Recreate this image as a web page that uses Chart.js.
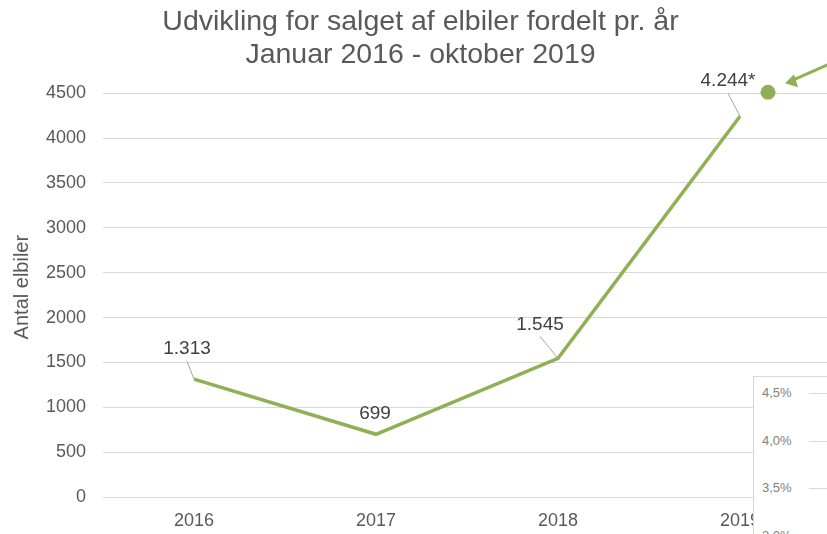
<!DOCTYPE html>
<html lang="da">
<head>
<meta charset="utf-8">
<script src="https://cdn.jsdelivr.net/npm/chart.js@4.4.1/dist/chart.umd.min.js"></script>
<style>
  html, body { margin: 0; padding: 0; background: #fff; overflow: hidden; }
  #wrap { position: relative; width: 827px; height: 534px; overflow: hidden; }
  #salesChart { position: absolute; left: 0; top: 0; }
  /* stump af nabo-diagrammet i højre side */
  #inset { position: absolute; left: 753px; top: 376px; width: 100px; height: 200px;
           background: #fff; border: 1px solid #d9d9d9; font-family: "Liberation Sans", Arial, sans-serif;
           font-size: 13px; color: #7f7f7f; }
  #inset div { position: absolute; left: 8px; height: 16px; line-height: 16px; }
  #inset span { position: absolute; left: 47px; top: 8px; width: 40px; border-top: 1px solid #d9d9d9; }
</style>
</head>
<body>
<div id="wrap">
  <canvas id="salesChart" width="920" height="534"></canvas>
  <div id="inset"></div>
</div>
<script>
// ---- data ----
const years = ['2016', '2017', '2018', '2019'];
const salesCount = [1313, 699, 1545, 4244];
const salesNote = ['', '', '', '*'];
const yTicks = [0, 500, 1000, 1500, 2000, 2500, 3000, 3500, 4000, 4500];
const insetTicks = ['4,5%', '4,0%', '3,5%', '3,0%'];
const yTitle = 'Antal elbiler';

const textColor = '#595959';
const lineGreen = '#8db153';
const fontFam = '"Liberation Sans", Arial, sans-serif';

// label-placering i forhold til punktet (dx, dy) og om der skal leader-linje
const labelOffsets = [
    { dx: -7, dy: -30, leader: true },
    { dx: -1, dy: -21, leader: false },
    { dx: -18, dy: -34, leader: true },
    { dx: -12, dy: -35, leader: true }
];

function fmtDa(n) {
    return String(n).replace(/\B(?=(\d{3})+(?!\d))/g, '.');
}

// datalabels med leader-linjer (som i Excel)
const valueLabels = {
    id: 'valueLabels',
    afterDatasetsDraw(chart) {
        const ctx = chart.ctx;
        const meta = chart.getDatasetMeta(0);
        ctx.save();
        ctx.font = '19px ' + fontFam;
        ctx.fillStyle = '#404040';
        ctx.textAlign = 'center';
        ctx.textBaseline = 'middle';
        meta.data.forEach((pt, i) => {
            const off = labelOffsets[i];
            const lx = pt.x + off.dx;
            const ly = pt.y + off.dy;
            if (off.leader) {
                ctx.strokeStyle = '#a6a6a6';
                ctx.lineWidth = 1;
                ctx.beginPath();
                ctx.moveTo(lx, ly + 12);
                ctx.lineTo(pt.x, pt.y);
                ctx.stroke();
            }
            ctx.fillText(fmtDa(salesCount[i]) + salesNote[i], lx, ly);
        });
        ctx.restore();
    }
};

// y-aksens titel lidt over midten, som i Excel-udgaven
const axisTitle = {
    id: 'axisTitle',
    afterDraw(chart) {
        const ctx = chart.ctx;
        const a = chart.chartArea;
        ctx.save();
        ctx.translate(22, (a.top + a.bottom) / 2 - 8);
        ctx.rotate(-Math.PI / 2);
        ctx.font = '20px ' + fontFam;
        ctx.fillStyle = textColor;
        ctx.textAlign = 'center';
        ctx.textBaseline = 'middle';
        ctx.fillText(yTitle, 0, 0);
        ctx.restore();
    }
};

// grøn prik og pil ved 2019-værdien
const marker = {
    id: 'marker',
    afterDraw(chart) {
        const ctx = chart.ctx;
        const x = chart.scales.x.getPixelForValue(3) + 28;
        const y = chart.scales.y.getPixelForValue(4500) - 1;
        ctx.save();
        ctx.fillStyle = '#8fae5c';
        ctx.beginPath();
        ctx.arc(x, y, 7.5, 0, Math.PI * 2);
        ctx.fill();
        ctx.strokeStyle = lineGreen;
        ctx.lineWidth = 3;
        ctx.beginPath();
        ctx.moveTo(x + 65, y - 30);
        ctx.lineTo(x + 22, y - 11);
        ctx.stroke();
        ctx.fillStyle = lineGreen;
        ctx.beginPath();
        ctx.moveTo(x + 17, y - 9);
        ctx.lineTo(x + 26, y - 18);
        ctx.lineTo(x + 30, y - 5);
        ctx.closePath();
        ctx.fill();
        ctx.restore();
    }
};

new Chart(document.getElementById('salesChart'), {
    type: 'line',
    data: {
        labels: years,
        datasets: [{
            data: salesCount,
            borderColor: lineGreen,
            borderWidth: 3.5,
            pointRadius: 0,
            tension: 0,
            fill: false
        }]
    },
    options: {
        responsive: false,
        animation: false,
        layout: { padding: { left: 10, right: 89, top: 0, bottom: 0 } },
        plugins: {
            legend: { display: false },
            tooltip: { enabled: false },
            title: {
                display: true,
                text: ['Udvikling for salget af elbiler fordelt pr. år', 'Januar 2016 - oktober 2019'],
                color: textColor,
                font: { family: fontFam, size: 28.5, weight: 'normal', lineHeight: 1.18 },
                padding: { top: 5, bottom: 21 }
            }
        },
        scales: {
            x: {
                offset: true,
                grid: { display: false, drawTicks: false },
                border: { display: false },
                ticks: { color: textColor, padding: 13, font: { family: fontFam, size: 18 } },
                afterFit(scale) { scale.height = 37; }
            },
            y: {
                min: 0,
                max: 4500,
                afterBuildTicks(scale) { scale.ticks = yTicks.map(v => ({ value: v })); },
                grid: { color: '#d9d9d9', lineWidth: 1, drawTicks: false },
                border: { display: false },
                ticks: {
                    color: textColor, padding: 17,
                    font: { family: fontFam, size: 18 },
                    callback: v => String(v)
                },
                afterFit(scale) { scale.width = 93; }
            }
        }
    },
    plugins: [valueLabels, axisTitle, marker]
});

// nabo-diagrammets akse (kun det synlige stykke)
const inset = document.getElementById('inset');
insetTicks.forEach((t, i) => {
    const row = document.createElement('div');
    row.style.top = (8 + i * 47.5) + 'px';
    row.innerHTML = t + '<span></span>';
    inset.appendChild(row);
});
</script>
</body>
</html>
